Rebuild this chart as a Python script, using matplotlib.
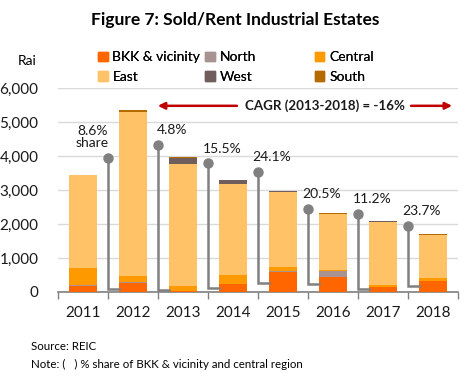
import numpy as np
import matplotlib
matplotlib.use("Agg")
import matplotlib.pyplot as plt
from matplotlib.patches import Patch

plt.rcParams['font.family'] = ['Lato', 'DejaVu Sans']

years = ['2011', '2012', '2013', '2014', '2015', '2016', '2017', '2018']
bkk = [186, 275, 30, 236, 590, 442, 157, 305]
north = [30, 20, 0, 0, 30, 168, 0, 20]
central = [482, 185, 137, 256, 108, 30, 58, 97]
east = [2743, 4810, 3599, 2684, 2222, 1660, 1850, 1259]
west = [0, 20, 187, 118, 10, 0, 10, 0]
south = [0, 50, 29, 0, 10, 20, 10, 30]

# share labels between bars (refer to the bar on the right)
share_labels = ['8.6%\nshare', '4.8%', '15.5%', '24.1%', '20.5%', '11.2%', '23.7%']
share_top = [3953, 4336, 3795, 3540, 2448, 2300, 1947]
share_elbow = [98, 50, 108, 265, 226, 88, 177]

series = [('BKK & vicinity', bkk, '#FF6600'),
          ('North', north, '#A89392'),
          ('Central', central, '#FF9900'),
          ('East', east, '#FFC266'),
          ('West', west, '#6F5E5C'),
          ('South', south, '#B36B00')]

fig = plt.figure(figsize=(4.66, 3.8), dpi=100)
ax = fig.add_axes([0.124, 0.232, 0.859, 0.536])

x = np.arange(len(years))
bw = 0.56
bottom = np.zeros(len(years))
for name, vals, col in series:
    ax.bar(x, vals, bw, bottom=bottom, color=col, label=name, zorder=3)
    bottom += np.array(vals)

# connectors
for i in range(len(share_labels)):
    bx = i + 0.5
    ax.plot([bx, bx, i + 1 - bw / 2], [share_top[i], share_elbow[i], share_elbow[i]],
            color='#808080', lw=1.8, zorder=4, solid_joinstyle='miter')
    ax.plot(bx, share_top[i], 'o', color='#808080', ms=6.5, zorder=5)
    if i == 0:
        ax.annotate(share_labels[i], (bx, share_top[i]), xytext=(-11, 6),
                    textcoords='offset points', ha='center', va='bottom',
                    fontsize=10, color='#1a1a1a', linespacing=1.0)
    else:
        ax.annotate(share_labels[i], (bx, share_top[i]), xytext=(10, 6),
                    textcoords='offset points', ha='center', va='bottom',
                    fontsize=10, color='#1a1a1a')

# CAGR arrows
ax.annotate('', xy=(1.5, 5480), xytext=(3.08, 5480),
            arrowprops=dict(arrowstyle='-|>', color='#C00000', lw=1.8, mutation_scale=10,
                            shrinkA=0, shrinkB=0))
ax.annotate('', xy=(7.38, 5480), xytext=(6.56, 5480),
            arrowprops=dict(arrowstyle='-|>', color='#C00000', lw=1.8, mutation_scale=10,
                            shrinkA=0, shrinkB=0))
ax.text(4.83, 5480, 'CAGR (2013-2018) = -16%', ha='center', va='center',
        fontsize=9.6, fontweight='bold', color='#1a1a1a')

ax.set_xlim(-0.5, 7.5)
ax.set_ylim(0, 6000)
ax.set_yticks(np.arange(0, 6001, 1000))
ax.set_yticklabels(['{:,}'.format(v) for v in range(0, 6001, 1000)], fontsize=11, color='#1a1a1a')
ax.set_xticks(x)
ax.set_xticklabels(years, fontsize=11, color='#1a1a1a')
ax.set_xticks(np.arange(-0.5, 8, 1), minor=True)
ax.tick_params(axis='x', which='major', length=0, pad=10)
ax.tick_params(axis='x', which='minor', length=5, color='#808080', width=1)
ax.tick_params(axis='y', length=0, pad=14)
ax.grid(axis='y', color='#D9D9D9', lw=1, zorder=0)
for s in ['top', 'right', 'left']:
    ax.spines[s].set_visible(False)
ax.spines['bottom'].set_color('#808080')
ax.spines['bottom'].set_linewidth(1.2)

# legend, three columns
cols = [(0, 3), (1, 4), (2, 5)]
xs = [0.195, 0.425, 0.66]
for (a, b), lx in zip(cols, xs):
    hs = [Patch(color=series[k][2], label=series[k][0]) for k in (a, b)]
    lg = fig.legend(handles=hs, loc='upper left', bbox_to_anchor=(lx, 0.883),
                    frameon=False, fontsize=10, handlelength=0.7, handleheight=0.7,
                    handletextpad=0.35, labelspacing=0.55, borderpad=0)
    fig.add_artist(lg)

fig.text(0.505, 0.947, 'Figure 7: Sold/Rent Industrial Estates', ha='center', va='center',
         fontsize=12.5, fontweight='bold')
fig.text(0.059, 0.84, 'Rai', ha='center', va='center', fontsize=10)
fig.text(0.066, 0.087, 'Source: REIC', ha='left', va='center', fontsize=8.3)
fig.text(0.066, 0.040, 'Note: (   ) % share of BKK & vicinity and central region',
         ha='left', va='center', fontsize=8.3)

fig.savefig('out.png', dpi=100)
